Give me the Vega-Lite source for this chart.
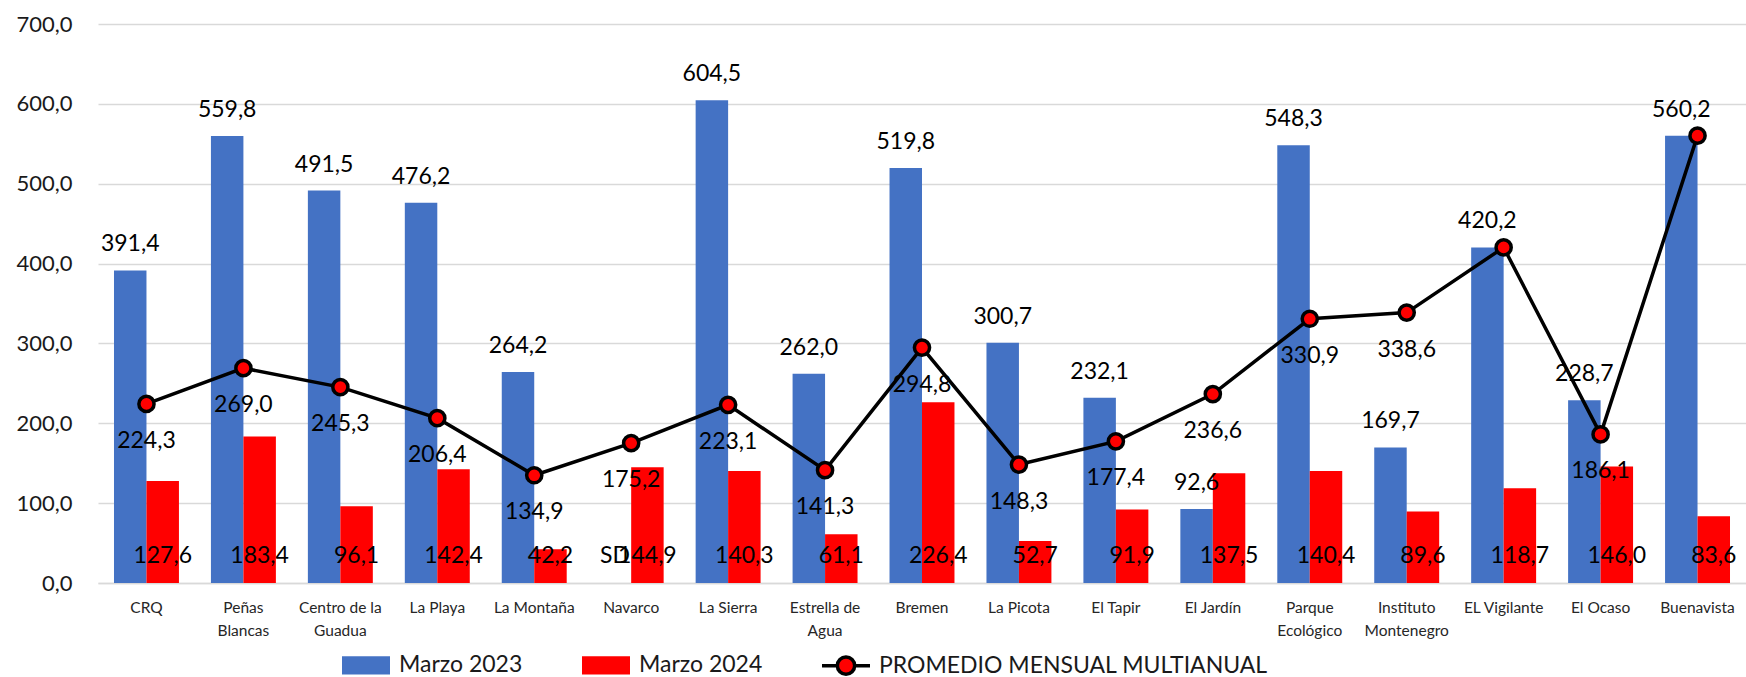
{
  "$schema": "https://vega.github.io/schema/vega-lite/v6.json",
  "width": 1648,
  "height": 559,
  "autosize": {"type": "none"},
  "padding": {"left": 98, "top": 24, "right": 0, "bottom": 94},
  "background": "#ffffff",
  "config": {
    "locale": {"number": {"decimal": ",", "thousands": ".", "grouping": [3], "currency": ["", ""]}},
    "view": {"stroke": null},
    "font": "Lato"
  },
  "data": {
    "values": [
      {"Estacion": "CRQ", "Marzo 2023": 391.4, "Marzo 2024": 127.6, "Promedio": 224.3},
      {"Estacion": "Peñas Blancas", "Marzo 2023": 559.8, "Marzo 2024": 183.4, "Promedio": 269.0},
      {"Estacion": "Centro de la Guadua", "Marzo 2023": 491.5, "Marzo 2024": 96.1, "Promedio": 245.3},
      {"Estacion": "La Playa", "Marzo 2023": 476.2, "Marzo 2024": 142.4, "Promedio": 206.4},
      {"Estacion": "La Montaña", "Marzo 2023": 264.2, "Marzo 2024": 42.2, "Promedio": 134.9},
      {"Estacion": "Navarco", "Marzo 2023": null, "Marzo 2024": 144.9, "Promedio": 175.2},
      {"Estacion": "La Sierra", "Marzo 2023": 604.5, "Marzo 2024": 140.3, "Promedio": 223.1},
      {"Estacion": "Estrella de Agua", "Marzo 2023": 262.0, "Marzo 2024": 61.1, "Promedio": 141.3},
      {"Estacion": "Bremen", "Marzo 2023": 519.8, "Marzo 2024": 226.4, "Promedio": 294.8},
      {"Estacion": "La Picota", "Marzo 2023": 300.7, "Marzo 2024": 52.7, "Promedio": 148.3},
      {"Estacion": "El Tapir", "Marzo 2023": 232.1, "Marzo 2024": 91.9, "Promedio": 177.4},
      {"Estacion": "El Jardín", "Marzo 2023": 92.6, "Marzo 2024": 137.5, "Promedio": 236.6},
      {"Estacion": "Parque Ecológico", "Marzo 2023": 548.3, "Marzo 2024": 140.4, "Promedio": 330.9},
      {"Estacion": "Instituto Montenegro", "Marzo 2023": 169.7, "Marzo 2024": 89.6, "Promedio": 338.6},
      {"Estacion": "EL Vigilante", "Marzo 2023": 420.2, "Marzo 2024": 118.7, "Promedio": 420.2},
      {"Estacion": "El Ocaso", "Marzo 2023": 228.7, "Marzo 2024": 146.0, "Promedio": 186.1},
      {"Estacion": "Buenavista", "Marzo 2023": 560.2, "Marzo 2024": 83.6, "Promedio": 560.2}
    ]
  },
  "encoding": {
    "x": {
      "field": "Estacion",
      "type": "nominal",
      "sort": null,
      "scale": {"paddingInner": 0.33, "paddingOuter": 0.165},
      "axis": {
        "title": null,
        "labelAngle": 0,
        "labelFont": "Lato",
        "labelFontSize": 15.5,
        "labelColor": "#262626",
        "labelPadding": 17,
        "labelLineHeight": 23,
        "ticks": false,
        "domain": true,
        "domainColor": "#D9D9D9",
        "domainWidth": 1.5,
        "labelExpr": "datum.label === 'Peñas Blancas' ? ['Peñas','Blancas'] : datum.label === 'Centro de la Guadua' ? ['Centro de la','Guadua'] : datum.label === 'Estrella de Agua' ? ['Estrella de','Agua'] : datum.label === 'Parque Ecológico' ? ['Parque','Ecológico'] : datum.label === 'Instituto Montenegro' ? ['Instituto','Montenegro'] : datum.label"
      }
    }
  },
  "layer": [
    {
      "transform": [{"fold": ["Marzo 2023", "Marzo 2024"], "as": ["key", "value"]}],
      "layer": [
        {
          "mark": {"type": "bar"},
          "encoding": {
            "y": {
              "field": "value",
              "type": "quantitative",
              "scale": {"domain": [0, 700], "nice": false},
              "axis": {
                "title": null,
                "values": [0, 100, 200, 300, 400, 500, 600, 700],
                "format": ".1f",
                "labelFont": "Lato",
                "labelFontSize": 22,
                "labelColor": "#1a1a1a",
                "labelPadding": 26,
                "ticks": false,
                "domain": false,
                "grid": true,
                "gridColor": "#D9D9D9",
                "gridWidth": 1.5
              }
            },
            "xOffset": {"field": "key", "type": "nominal", "sort": ["Marzo 2023", "Marzo 2024"]},
            "color": {
              "field": "key",
              "type": "nominal",
              "scale": {
                "domain": ["Marzo 2023", "Marzo 2024", "PROMEDIO MENSUAL MULTIANUAL"],
                "range": ["#4472C4", "#FF0000", "#FF0000"]
              },
              "legend": {
                "title": null,
                "orient": "none",
                "legendX": 242,
                "legendY": 615,
                "direction": "horizontal",
                "columns": 3,
                "padding": 0,
                "labelFont": "Lato",
                "labelFontSize": 23,
                "labelColor": "#1a1a1a",
                "labelOffset": 7,
                "columnPadding": 52,
                "symbolSize": 2304,
                "labelLimit": 600,
                "values": ["Marzo 2023", "Marzo 2024", "PROMEDIO MENSUAL MULTIANUAL"],
                "encode": {
                  "symbols": {
                    "update": {
                      "shape": {"signal": "datum.value === 'PROMEDIO MENSUAL MULTIANUAL' ? 'M-1,0H-0.36M0.36,0H1M0.36,0A0.36,0.36,0,1,1,-0.36,0A0.36,0.36,0,1,1,0.36,0' : 'M-1,-0.38H1V0.38H-1Z'"},
                      "stroke": {"signal": "datum.value === 'PROMEDIO MENSUAL MULTIANUAL' ? '#000000' : 'transparent'"},
                      "strokeWidth": {"value": 3.5},
                      "size": {"value": 2304},
                      "opacity": {"value": 1},
                      "fillOpacity": {"value": 1}
                    }
                  }
                }
              }
            }
          }
        },
        {
          "transform": [{"filter": "datum.key === 'Marzo 2023' && datum.value != null"}],
          "mark": {"type": "text", "dy": -26, "baseline": "middle", "align": "center", "font": "Lato", "fontSize": 23, "color": "#000000"},
          "encoding": {
            "y": {"field": "value", "type": "quantitative"},
            "xOffset": {"field": "key", "type": "nominal", "sort": ["Marzo 2023", "Marzo 2024"]},
            "text": {"field": "value", "type": "quantitative", "format": ".1f"}
          }
        },
        {
          "transform": [{"filter": "datum.key === 'Marzo 2024'"}],
          "mark": {"type": "text", "dy": -27, "baseline": "middle", "align": "center", "font": "Lato", "fontSize": 23, "color": "#000000"},
          "encoding": {
            "y": {"datum": 0, "type": "quantitative"},
            "xOffset": {"field": "key", "type": "nominal", "sort": ["Marzo 2023", "Marzo 2024"]},
            "text": {"field": "value", "type": "quantitative", "format": ".1f"}
          }
        },
        {
          "transform": [{"filter": "datum.key === 'Marzo 2023' && datum.value == null"}],
          "mark": {"type": "text", "text": "SD", "dy": -27, "baseline": "middle", "align": "center", "font": "Lato", "fontSize": 23, "color": "#000000"},
          "encoding": {
            "y": {"datum": 0, "type": "quantitative"},
            "xOffset": {"field": "key", "type": "nominal", "sort": ["Marzo 2023", "Marzo 2024"]}
          }
        }
      ]
    },
    {
      "mark": {"type": "line", "strokeWidth": 3.5, "color": "#000000"},
      "encoding": {
        "y": {"field": "Promedio", "type": "quantitative"}
      }
    },
    {
      "mark": {"type": "point", "filled": true, "fill": "#FF0000", "stroke": "#000000", "strokeWidth": 3.5, "size": 230, "opacity": 1, "fillOpacity": 1, "strokeOpacity": 1},
      "encoding": {
        "y": {"field": "Promedio", "type": "quantitative"}
      }
    },
    {
      "transform": [{"filter": "datum.Estacion !== 'EL Vigilante' && datum.Estacion !== 'Buenavista'"}],
      "mark": {"type": "text", "dy": 37, "baseline": "middle", "align": "center", "font": "Lato", "fontSize": 23, "color": "#000000"},
      "encoding": {
        "y": {"field": "Promedio", "type": "quantitative"},
        "text": {"field": "Promedio", "type": "quantitative", "format": ".1f"}
      }
    }
  ]
}
